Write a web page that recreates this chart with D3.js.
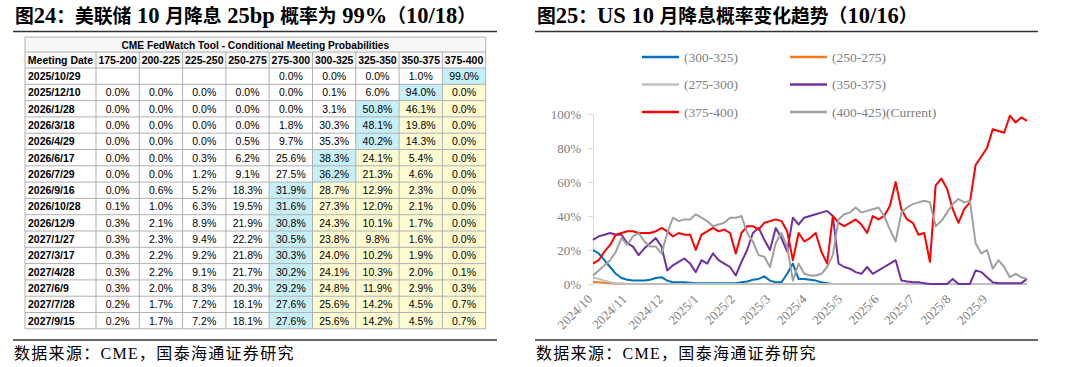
<!DOCTYPE html>
<html>
<head>
<meta charset="utf-8">
<script src="https://cdn.jsdelivr.net/npm/d3@7"></script>
<style>
body { margin: 0; background: #fff; }
svg text { font-family: "Liberation Serif", "Noto Sans CJK SC", serif; }
.tbl text { font-family: "Liberation Sans", Arial, sans-serif; font-size: 10.5px; fill: #000; }
</style>
</head>
<body>
<svg id="page" width="1080" height="367"></svg>
<script>
// ---------- fig 24 : CME FedWatch table ----------
var rateBins = ["175-200","200-225","225-250","250-275","275-300","300-325","325-350","350-375","375-400"];
var meetingDates = ["2025/10/29","2025/12/10","2026/1/28","2026/3/18","2026/4/29","2026/6/17","2026/7/29","2026/9/16",
                    "2026/10/28","2026/12/9","2027/1/27","2027/3/17","2027/4/28","2027/6/9","2027/7/28","2027/9/15"];
var meetingProbs = [
  [null,null,null,null,0.0,0.0,0.0,1.0,99.0],
  [0.0,0.0,0.0,0.0,0.0,0.1,6.0,94.0,0.0],
  [0.0,0.0,0.0,0.0,0.0,3.1,50.8,46.1,0.0],
  [0.0,0.0,0.0,0.0,1.8,30.3,48.1,19.8,0.0],
  [0.0,0.0,0.0,0.5,9.7,35.3,40.2,14.3,0.0],
  [0.0,0.0,0.3,6.2,25.6,38.3,24.1,5.4,0.0],
  [0.0,0.0,1.2,9.1,27.5,36.2,21.3,4.6,0.0],
  [0.0,0.6,5.2,18.3,31.9,28.7,12.9,2.3,0.0],
  [0.1,1.0,6.3,19.5,31.6,27.3,12.0,2.1,0.0],
  [0.3,2.1,8.9,21.9,30.8,24.3,10.1,1.7,0.0],
  [0.3,2.3,9.4,22.2,30.5,23.8,9.8,1.6,0.0],
  [0.3,2.2,9.2,21.8,30.3,24.0,10.2,1.9,0.0],
  [0.3,2.2,9.1,21.7,30.2,24.1,10.3,2.0,0.1],
  [0.3,2.0,8.3,20.3,29.2,24.8,11.9,2.9,0.3],
  [0.2,1.7,7.2,18.1,27.6,25.6,14.2,4.5,0.7],
  [0.2,1.7,7.2,18.1,27.6,25.6,14.2,4.5,0.7]
];

// ---------- fig 25 : probability trend, one reading every 5 days from 2024/10/1 ----------
var sampleStart = new Date(2024, 9, 1);
var sampleEnd = new Date(2025, 9, 16);
var p300_325 = [20,18,14,10,6,3.5,2.5,2,2,2, 2.5,3.5,4,2,1,1,1,0.8,0.5,0.5,
  0.5,0.5,0.5,0.5,0.5,0.5,1,1.5,2.5,3, 4.5,2,1,1,6,12,3,3,2.5,2,
  1,0.5,0,0,0,0,0,0,0,0, 0,0,0,0,0,0,0,0,0,0,
  0,0,0,0,0,0,0,0,0,0, 0,0,0,0,0,0,0];
var p250_275 = [1.2,1,0.8,0.5,0.3,0.2,0,0,0,0, 0,0,0,0,0,0,0,0,0,0,
  0,0,0,0,0,0,0,0,0,0, 0,0,0,0,0,0,0,0,0,0,
  0,0,0,0,0,0,0,0,0,0, 0,0,0,0,0,0,0,0,0,0,
  0,0,0,0,0,0,0,0,0,0, 0,0,0,0,0,0,0];
var p275_300 = [4,3,2,1,0.5,0.3,0,0,0,0, 0,0,0,0,0,0,0,0,0,0,
  0,0,0,0,0,0,0,0,0,0, 0,0,0,0,0,0,0,0,0,0,
  0,0,0,0,0,0,0,0,0,0, 0,0,0,0,0,0,0,0,0,0,
  0,0,0,0,0,0,0,0,0,0, 0,0,0,0,0,0,0];
var p350_375 = [26,28,29,30,29,29,24,22,17,21, 24,27,22,8,11,13,15,12,7,14,
  12,18,14,12,10,5,13,20,30,33, 26,20,33,27,19,39,35,39,40,41,
  42,43,40,12,10,9,7,6,10,6, 8,10,12,14,2,1.5,1,1,0.5,0,
  0,0,0,3,0,0,0,8,7,4, 1,0.5,0.5,0.5,0.5,0.5,3];
var p375_400 = [12,14,19,23,29,30,31,31,30,30, 30,31,33,31,28,30,29,29,20,29,
  31,33,31,32,30,18,30,34,34,32, 36,37,38,37,31,14,30,25,27,30,
  19,12,40,36,34,36,38,35,30,40, 38,40,46,60,44,38,36,29,30,13,
  58,62,56,44,36,44,48,70,75,80, 91,90,89,99,95,98,96];
var p400_425 = [5,8,11,14,19,27,23,28,30,25, 22,22,18,30,39,37,38,38,41,39,
  37,34,35,36,39,39,40,30,25,17, 16,10,24,30,22,2,12,6,5,5,
  6,10,17,38,41,42,45,42,43,44, 45,40,32,25,42,45,47,48,49,48,
  34,37,42,47,50,48,49,24,18,20, 9,14,10,4,6,4,3];
var seriesNames = ["(300-325)","(250-275)","(275-300)","(350-375)","(375-400)","(400-425)(Current)"];
var seriesColors = ["#0070C0","#F47B20","#BFBFBF","#7030A0","#FF0000","#A0A0A0"];
var seriesValues = [p300_325, p250_275, p275_300, p350_375, p375_400, p400_425];
// axis labels sit every 22 trading days
var tickDates = ["2024-10-01","2024-10-31","2024-12-02","2025-01-02","2025-02-03","2025-03-06",
                 "2025-04-07","2025-05-08","2025-06-09","2025-07-10","2025-08-11","2025-09-12"];
var tickLabels = ["2024/10","2024/11","2024/12","2025/1","2025/2","2025/3",
                  "2025/4","2025/5","2025/6","2025/7","2025/8","2025/9"];
var yTicks = [0,20,40,60,80,100];

var svg = d3.select("#page");
svg.append("rect").attr("width",1080).attr("height",367).attr("fill","#fff");

// latin runs a bit larger than the CJK ones, as in the report style
function mixedText(el, str, latinSize, cjkSize) {
  var runs = str.match(/[\x00-\x7F]+|[^\x00-\x7F]+/g);
  runs.forEach(function(run) {
    el.append("tspan")
      .style("font-size", /[\x00-\x7F]/.test(run) ? latinSize : cjkSize)
      .style("white-space","pre")
      .text(run);
  });
}

// titles, rules and source lines
function frame(x0, x1, title) {
  var t = svg.append("text").attr("x", x0 + 2).attr("y", 23)
    .style("font-weight","bold").attr("xml:space","preserve");
  mixedText(t, title, "22.5px", "18.8px");
  svg.append("line").attr("x1",x0).attr("x2",x1).attr("y1",31.5).attr("y2",31.5)
    .attr("stroke","#333").attr("stroke-width",1.5);
  svg.append("line").attr("x1",x0).attr("x2",x1).attr("y1",340).attr("y2",340)
    .attr("stroke","#333").attr("stroke-width",1.5);
  svg.append("text").attr("x", x0 + 1).attr("y", 359)
    .style("font-size","16px").style("letter-spacing","1.3px").text("数据来源：CME，国泰海通证券研究");
}
frame(13, 497, "图24：美联储 10 月降息 25bp 概率为 99%（10/18）");
frame(535, 1038, "图25：US 10 月降息概率变化趋势（10/16）");

// ---------- table ----------
var tbl = svg.append("g").attr("class","tbl");
var tx0 = 25, dateW = 71, binW = 43.3, tTop = 37, titleH = 15, headH = 16, rowH = 16.3;
var tx1 = tx0 + dateW + binW * rateBins.length;
var gridColor = "#B0B0B0";

tbl.append("rect").attr("x",tx0).attr("y",tTop).attr("width",tx1 - tx0).attr("height",titleH + headH)
  .attr("fill","#F7F7F7");
tbl.append("text").attr("x",(tx0 + tx1) / 2).attr("y",tTop + 11.5).attr("text-anchor","middle")
  .style("font-weight","bold").style("font-size","10.2px")
  .text("CME FedWatch Tool - Conditional Meeting Probabilities");

var headY = tTop + titleH;
var colX = function(i) { return tx0 + dateW + binW * i; };
tbl.append("text").attr("x",tx0 + dateW / 2).attr("y",headY + 12).attr("text-anchor","middle")
  .style("font-weight","bold").text("Meeting Date");
rateBins.forEach(function(b, i) {
  tbl.append("text").attr("x",colX(i) + binW / 2).attr("y",headY + 12).attr("text-anchor","middle")
    .style("font-weight","bold").text(b);
});

var rowsTop = headY + headH;
meetingProbs.forEach(function(row, r) {
  var y0 = rowsTop + rowH * r;
  var best = d3.maxIndex(row, function(v) { return v == null ? -1 : v; });
  row.forEach(function(v, i) {
    var fill = i == best ? "#C6EFF8" : (i > best ? "#FDFBD2" : "#fff");
    tbl.append("rect").attr("x",colX(i)).attr("y",y0).attr("width",binW).attr("height",rowH).attr("fill",fill);
    if (v != null) {
      tbl.append("text").attr("x",colX(i) + binW / 2).attr("y",y0 + 12).attr("text-anchor","middle")
        .text(v.toFixed(1) + "%");
    }
  });
  tbl.append("text").attr("x",tx0 + 3).attr("y",y0 + 12).style("font-weight","bold").text(meetingDates[r]);
});
var tBottom = rowsTop + rowH * meetingDates.length;

// grid lines
for (var r = 0; r <= meetingDates.length + 2; r++) {
  var gy = r == 0 ? tTop : (r == 1 ? headY : rowsTop + rowH * (r - 2));
  tbl.append("line").attr("x1",tx0).attr("x2",tx1).attr("y1",gy).attr("y2",gy)
    .attr("stroke",gridColor).attr("stroke-width",1);
}
for (var c = 0; c <= rateBins.length + 1; c++) {
  var gx = c == 0 ? tx0 : colX(c - 1);
  var lineTop = (c == 0 || c == rateBins.length + 1) ? tTop : headY;
  tbl.append("line").attr("x1",gx).attr("x2",gx).attr("y1",lineTop).attr("y2",tBottom)
    .attr("stroke",gridColor).attr("stroke-width",1);
}

// ---------- line chart ----------
var dates = d3.timeDay.range(sampleStart, d3.timeDay.offset(sampleEnd, 1), 5);
var x = d3.scaleTime().domain([sampleStart, sampleEnd]).range([593, 1027]);
var y = d3.scaleLinear().domain([0, 100]).range([284, 114]);
var parse = d3.timeParse("%Y-%m-%d");

var yAxis = svg.append("g").attr("transform","translate(593,0)")
  .call(d3.axisLeft(y).tickValues(yTicks).tickFormat(function(d) { return d + "%"; })
    .tickSize(5).tickSizeOuter(0).tickPadding(7));
yAxis.selectAll("path, line").attr("stroke","#D9D9D9");
yAxis.selectAll("text").attr("fill","#808080").style("font-size","13px")
  .style("font-family","'Liberation Serif', serif");

svg.append("line").attr("x1",593).attr("x2",1027).attr("y1",284).attr("y2",284).attr("stroke","#D9D9D9");

svg.append("g").selectAll("text")
  .data(tickDates)
  .enter().append("text")
  .attr("transform", function(d) { return "translate(" + x(parse(d)) + ",300) rotate(-45)"; })
  .attr("text-anchor","end")
  .attr("fill","#808080")
  .style("font-size","13px")
  .text(function(d, i) { return tickLabels[i]; });

var line = d3.line()
  .x(function(d, i) { return x(dates[i]); })
  .y(function(d) { return y(d); });

seriesValues.forEach(function(vals, s) {
  svg.append("path").datum(vals)
    .attr("d", line)
    .attr("fill","none")
    .attr("stroke", seriesColors[s])
    .attr("stroke-width", 2)
    .attr("stroke-linejoin","round");
});

// legend, 2 columns x 3 rows
var legend = svg.append("g");
seriesNames.forEach(function(name, s) {
  var lx = s % 2 == 0 ? 642 : 790;
  var ly = 57 + Math.floor(s / 2) * 27.5;
  legend.append("line").attr("x1",lx).attr("x2",lx + 37).attr("y1",ly).attr("y2",ly)
    .attr("stroke",seriesColors[s]).attr("stroke-width",2.5);
  legend.append("text").attr("x",lx + 42).attr("y",ly).attr("dy","0.35em")
    .attr("fill","#808080").style("font-size","13.5px").text(name);
});
</script>
</body>
</html>
